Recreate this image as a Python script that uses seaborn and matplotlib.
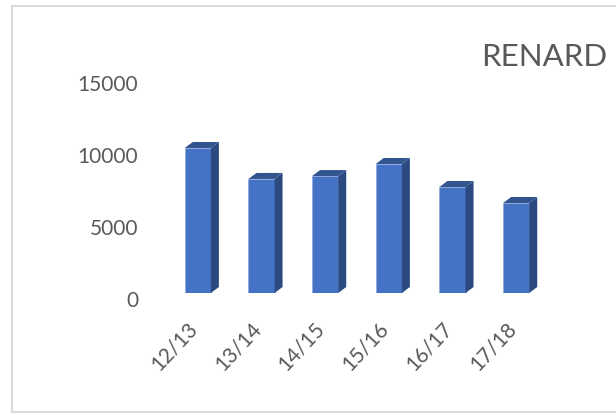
"""RENARD yearly bars with a faux 3D look."""

import matplotlib.pyplot as plt
import pandas as pd
import seaborn as sns
from matplotlib.lines import Line2D
from matplotlib.patches import Polygon
from matplotlib.transforms import IdentityTransform, ScaledTranslation

seasons = ["12/13", "13/14", "14/15", "15/16", "16/17", "17/18"]
values = [10070, 7920, 8120, 8960, 7360, 6250]
y_ticks = [0, 5000, 10000, 15000]

FRONT = "#4472c4"
SIDE = "#2a4a80"
TOP = "#32548f"
TEXT = "#595959"
W, H = 616, 414
DEPTH_X, DEPTH_Y = 8, 6

sns.set_theme(style="white")
plt.rcParams["font.family"] = ["Lato", "DejaVu Sans"]

fig = plt.figure(figsize=(W / 100, H / 100), dpi=100)
ax = fig.add_axes([166 / W, (H - 294) / H, 382 / W, 216 / H])

df = pd.DataFrame({"season": seasons, "value": values})
sns.barplot(data=df, x="season", y="value", color=FRONT, saturation=1, width=0.41, ax=ax,
            edgecolor="#8faadc", linewidth=0.6)
ax.set_xlim(-0.5, 5.5)
ax.set_ylim(0, 15000)
ax.set_xlabel("")
ax.set_ylabel("")
ax.set_yticks(y_ticks)
ax.tick_params(length=0)
sns.despine(ax=ax, left=True, bottom=True, top=True, right=True)

# side and top faces, in pixels from each drawn bar
fig.canvas.draw()
for bar in ax.patches:
    (x0, y0), (x1, y1) = ax.transData.transform(bar.get_bbox().get_points())
    side = [(x1, y0), (x1 + DEPTH_X, y0 + DEPTH_Y), (x1 + DEPTH_X, y1 + DEPTH_Y), (x1, y1)]
    top = [(x0, y1), (x0 + DEPTH_X, y1 + DEPTH_Y), (x1 + DEPTH_X, y1 + DEPTH_Y), (x1, y1)]
    fig.add_artist(Polygon(side, transform=IdentityTransform(), facecolor=SIDE, edgecolor="none"))
    fig.add_artist(Polygon(top, transform=IdentityTransform(), facecolor=TOP, edgecolor="none"))

# tick labels sit off the front edge, like the 3D chart they came from
y_shift = ScaledTranslation(-23 / 100, -5 / 100, fig.dpi_scale_trans)
for label in ax.get_yticklabels():
    label.set_transform(label.get_transform() + y_shift)
    label.set_fontsize(15)
    label.set_color(TEXT)

x_shift = ScaledTranslation(-11 / 100, -20 / 100, fig.dpi_scale_trans)
for label in ax.get_xticklabels():
    label.set_rotation(47)
    label.set_ha("right")
    label.set_va("top")
    label.set_rotation_mode("anchor")
    label.set_transform(label.get_transform() + x_shift)
    label.set_fontsize(15)
    label.set_color(TEXT)

fig.text(544.5 / W, (H - 57) / H, "RENARD", fontsize=22.5, color=TEXT, ha="center", va="center")

# chart frame, open on the right
frame = [([12, 616], [407.5, 407.5]), ([12, 12], [1, 407.5]), ([12, 616], [1, 1])]
for xs, ys in frame:
    fig.add_artist(Line2D([x / W for x in xs], [y / H for y in ys], color="#d9d9d9", linewidth=1.5))

fig.savefig("out.png", dpi=100)
